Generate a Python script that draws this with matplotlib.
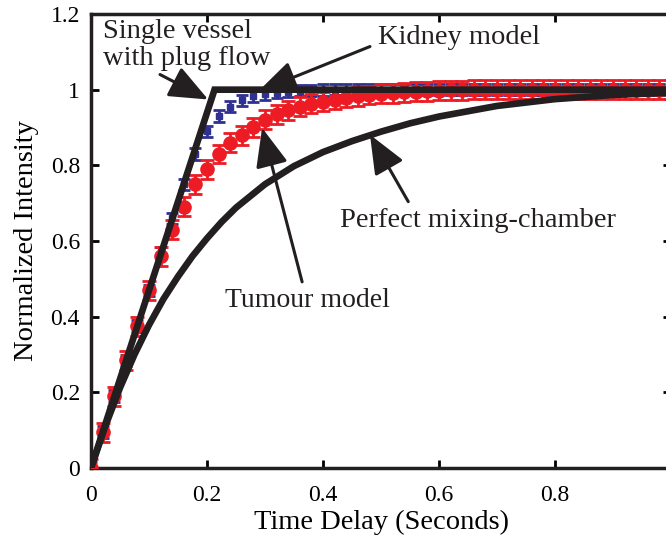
import matplotlib.pyplot as plt
import numpy as np

plt.rcParams['font.family'] = ['Liberation Serif', 'DejaVu Serif']

# sampled time points (s)
t_data = [0.00, 0.02, 0.04, 0.06, 0.08, 0.10, 0.12, 0.14, 0.16, 0.18,
          0.20, 0.22, 0.24, 0.26, 0.28, 0.30, 0.32, 0.34, 0.36, 0.38,
          0.40, 0.42, 0.44, 0.46, 0.48, 0.50, 0.52, 0.54, 0.56, 0.58,
          0.60, 0.62, 0.64, 0.66, 0.68, 0.70, 0.72, 0.74, 0.76, 0.78,
          0.80, 0.82, 0.84, 0.86, 0.88, 0.90, 0.92, 0.94, 0.96, 0.98, 1.00]

kidney = [0.00, 0.095, 0.19, 0.285, 0.375, 0.47, 0.57, 0.66, 0.75, 0.83,
          0.89, 0.93, 0.955, 0.972, 0.982, 0.988, 0.992, 0.995, 0.997, 0.998,
          0.999, 1.0, 1.0, 1.0, 1.0, 1.0, 1.0, 1.0, 1.0, 1.0,
          1.0, 1.0, 1.0, 1.0, 1.0, 1.0, 1.0, 1.0, 1.0, 1.0,
          1.0, 1.0, 1.0, 1.0, 1.0, 1.0, 1.0, 1.0, 1.0, 1.0, 1.0]

tumour = [0.00, 0.095, 0.19, 0.285, 0.375, 0.47, 0.56, 0.63, 0.69, 0.75,
          0.79, 0.83, 0.86, 0.88, 0.90, 0.92, 0.935, 0.945, 0.955, 0.963,
          0.968, 0.974, 0.978, 0.982, 0.986, 0.989, 0.991, 0.993, 0.995, 0.996,
          0.997, 0.998, 0.999, 1.0, 1.0, 1.0, 1.0, 1.0, 1.0, 1.0,
          1.0, 1.0, 1.0, 1.0, 1.0, 1.0, 1.0, 1.0, 1.0, 1.0, 1.0]

kidney_err = 0.015
tumour_err = 0.025

# single vessel with plug flow
t_plug = [0.0, 0.213, 1.0]
y_plug = [0.0, 1.0, 1.0]

# perfect mixing chamber
t_mix = [0.0, 0.025, 0.05, 0.075, 0.10, 0.125, 0.15, 0.175, 0.20, 0.225,
         0.25, 0.30, 0.35, 0.40, 0.45, 0.50, 0.55, 0.60, 0.70, 0.80, 0.90, 1.00]
y_mix = [0.0, 0.112, 0.212, 0.30, 0.378, 0.447, 0.506, 0.56, 0.607, 0.65,
         0.688, 0.75, 0.798, 0.835, 0.864, 0.889, 0.911, 0.929, 0.957, 0.975, 0.986, 0.992]

fig = plt.figure(figsize=(6.66, 5.38), dpi=100)
ax = fig.add_axes([91 / 666, 1 - 468 / 538, 580 / 666, 454 / 538])

ax.errorbar(t_data, kidney, yerr=kidney_err, fmt='s', color='#2e3192',
            markersize=4, elinewidth=2, capsize=4, capthick=2, zorder=2)
ax.errorbar(t_data, tumour, yerr=tumour_err, fmt='o', color='#ed1c24',
            markersize=9.5, elinewidth=2, capsize=5, capthick=2, zorder=3)
ax.plot(t_plug, y_plug, color='#231f20', linewidth=4.8, zorder=4,
        solid_joinstyle='miter')
ax.plot(t_mix, y_mix, color='#231f20', linewidth=4.8, zorder=4)

ax.set_xlim(0, 1)
ax.set_ylim(0, 1.2)
ax.set_xticks([0, 0.2, 0.4, 0.6, 0.8])
ax.set_xticklabels(['0', '0.2', '0.4', '0.6', '0.8'])
ax.set_yticks([0, 0.2, 0.4, 0.6, 0.8, 1.0, 1.2])
ax.set_yticklabels(['0', '0.2', '0.4', '0.6', '0.8', '1', '1.2'])
ax.tick_params(direction='in', length=6, width=2, labelsize=17,
               top=True, right=True)
ax.tick_params(axis='x', pad=12)
ax.tick_params(axis='y', pad=8)
for s in ax.spines.values():
    s.set_linewidth(2.5)
    s.set_color('#231f20')

ax.set_xlabel('Time Delay (Seconds)', fontsize=20.5, labelpad=3)
ax.set_ylabel('Normalized Intensity', fontsize=20.5, labelpad=8)

arrow = dict(arrowstyle='-|>,head_length=1.2,head_width=0.5', color='#231f20',
             lw=2.2, mutation_scale=20, shrinkA=0, shrinkB=0)

ax.text(0.021, 1.118, 'Single vessel\nwith plug flow', fontsize=20.5,
        ha='left', va='center', linespacing=1.15, color='#231f20')
ax.annotate('', xy=(0.202, 0.974), xytext=(0.119, 1.04), arrowprops=arrow)

ax.text(0.495, 1.138, 'Kidney model', fontsize=20.5, ha='left', va='center',
        color='#231f20')
ax.annotate('', xy=(0.288, 0.995), xytext=(0.481, 1.114), arrowprops=arrow)

ax.text(0.374, 0.444, 'Tumour model', fontsize=20, ha='center', va='center',
        color='#231f20')
ax.annotate('', xy=(0.295, 0.899), xytext=(0.364, 0.492), arrowprops=arrow)

ax.text(0.429, 0.654, 'Perfect mixing-chamber', fontsize=20.5, ha='left',
        va='center', color='#231f20')
ax.annotate('', xy=(0.481, 0.881), xytext=(0.547, 0.704), arrowprops=arrow)

fig.savefig('out.png', dpi=100)
